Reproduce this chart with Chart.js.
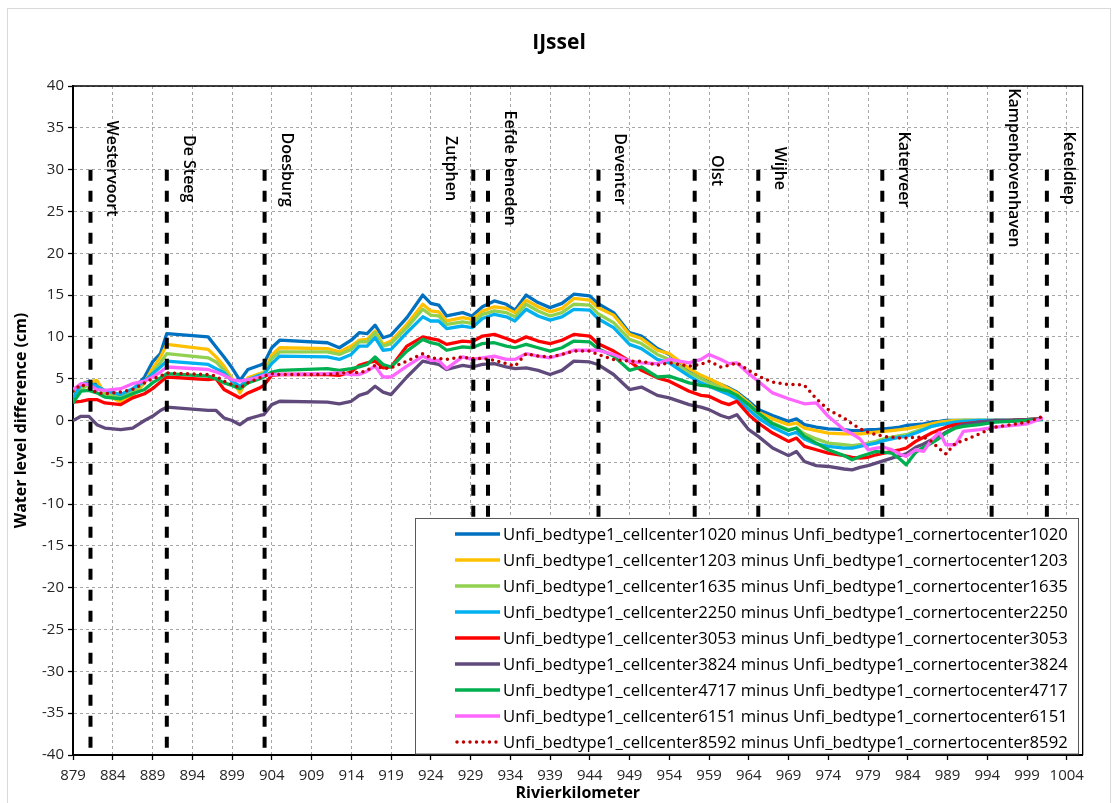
<!DOCTYPE html>
<html>
<head>
<meta charset="utf-8">
<script src="https://cdn.jsdelivr.net/npm/chart.js@4.4.1/dist/chart.umd.min.js"></script>
<style>
  html, body { margin: 0; padding: 0; background: #ffffff; }
  #wrap { width: 1113px; height: 803px; }
</style>
</head>
<body>
<div id="wrap"><canvas id="c" width="1113" height="803"></canvas></div>
<script>
// ---------------- DATA ----------------
const km = [879, 880, 881, 882, 883, 885, 886.5, 888, 889, 890, 890.8, 896, 897, 898, 899, 900, 901, 902.5, 903, 904, 905, 911, 912.5, 914, 915, 916, 917, 918, 919, 921, 923, 924, 925, 926, 928, 929.2, 930.5, 932, 933.5, 934.6, 936, 937.5, 939, 940.5, 942, 944, 945, 947, 949, 950.5, 952.5, 954, 956.5, 958, 959, 960.5, 961.5, 962.5, 964, 965.2, 967, 969, 970, 971, 972.5, 974, 976, 977, 978, 979, 980, 981, 982, 983, 983.8, 985, 986, 987, 988, 988.8, 990, 991, 993, 995, 997, 999, 1001];

const s1020 = [2.3, 4.3, 4.7, 4.5, 3.3, 2.7, 3.6, 5.2, 7.0, 8.0, 10.4, 10.0, 8.8, 7.6, 6.3, 4.8, 6.1, 6.6, 6.8, 8.7, 9.6, 9.3, 8.7, 9.6, 10.5, 10.4, 11.4, 9.9, 10.2, 12.3, 15.0, 14.0, 13.8, 12.5, 12.9, 12.5, 13.6, 14.3, 13.9, 13.2, 15.0, 14.1, 13.5, 14.0, 15.1, 14.9, 14.0, 12.9, 10.5, 10.1, 8.6, 7.9, 6.1, 5.3, 4.9, 4.3, 3.9, 3.4, 2.3, 1.3, 0.6, -0.1, 0.2, -0.5, -0.8, -1.0, -1.1, -1.2, -1.2, -1.1, -1.1, -1.0, -0.9, -0.8, -0.6, -0.5, -0.4, -0.2, -0.1, 0.0, 0.0, 0.0, 0.0, 0.0, 0.0, 0.1, 0.2];
const s1203 = [3.0, 4.3, 4.6, 4.8, 3.2, 2.2, 2.9, 4.5, 6.2, 7.6, 9.1, 8.5, 7.6, 6.5, 5.0, 3.3, 5.1, 5.6, 5.8, 7.8, 8.7, 8.6, 8.2, 8.9, 9.6, 9.7, 10.7, 9.1, 9.5, 11.5, 13.9, 13.1, 13.0, 11.9, 12.3, 12.1, 13.1, 13.6, 13.4, 12.9, 14.4, 13.6, 13.0, 13.4, 14.6, 14.4, 13.5, 12.6, 10.3, 9.8, 8.4, 8.0, 6.2, 5.4, 5.0, 4.3, 3.8, 3.3, 2.1, 1.0, 0.2, -0.5, -0.3, -0.9, -1.2, -1.5, -1.6, -1.6, -1.6, -1.5, -1.4, -1.3, -1.2, -1.1, -1.0, -0.8, -0.6, -0.4, -0.2, -0.1, 0.0, 0.0, 0.0, 0.0, 0.0, 0.1, 0.2];
const s1635 = [2.1, 3.7, 4.3, 4.0, 3.2, 2.9, 3.4, 4.6, 5.7, 6.9, 8.0, 7.5, 7.0, 6.0, 4.8, 3.9, 4.8, 5.5, 5.7, 7.4, 8.2, 8.2, 7.9, 8.5, 9.4, 9.4, 10.5, 8.9, 9.2, 11.1, 13.3, 12.6, 12.5, 11.5, 11.8, 11.6, 12.7, 13.1, 12.9, 12.4, 13.9, 13.1, 12.5, 12.9, 13.9, 13.8, 12.8, 11.7, 9.7, 9.2, 7.9, 7.3, 5.7, 5.0, 4.5, 3.9, 3.5, 3.0, 1.7, 0.7, -0.3, -1.1, -0.9, -1.6, -2.2, -2.7, -2.9, -3.0, -2.9, -2.7, -2.5, -2.2, -2.0, -1.8, -1.7, -1.3, -1.0, -0.7, -0.5, -0.3, -0.1, 0.0, 0.0, 0.0, 0.0, 0.1, 0.2];
const s2250 = [2.7, 4.3, 4.5, 4.1, 3.6, 3.1, 3.8, 4.7, 5.6, 6.4, 7.1, 6.7, 6.2, 5.7, 4.7, 4.1, 4.9, 5.4, 5.5, 6.8, 7.7, 7.6, 7.3, 7.9, 8.9, 8.9, 9.9, 8.4, 8.5, 10.5, 12.4, 11.9, 11.9, 11.0, 11.3, 11.1, 12.2, 12.7, 12.4, 11.9, 13.3, 12.5, 12.0, 12.4, 13.3, 13.2, 12.2, 11.1, 9.1, 8.6, 7.3, 6.9, 5.3, 4.5, 4.1, 3.5, 3.1, 2.6, 1.3, 0.3, -0.8, -1.7, -1.4, -2.2, -2.8, -3.1, -3.3, -3.3, -3.1, -2.9, -2.7, -2.4, -2.2, -2.0, -1.9, -1.5, -1.1, -0.7, -0.5, -0.4, -0.2, -0.1, 0.0, 0.0, 0.0, 0.1, 0.2];
const s3053 = [2.2, 2.3, 2.5, 2.5, 2.1, 1.9, 2.7, 3.2, 3.8, 4.6, 5.2, 4.9, 5.0, 3.7, 3.2, 2.7, 3.3, 3.9, 4.2, 5.4, 5.5, 5.5, 5.4, 5.8, 6.6, 6.9, 7.1, 6.3, 6.4, 8.9, 10.0, 9.8, 9.6, 9.1, 9.5, 9.4, 10.1, 10.3, 9.8, 9.4, 10.0, 9.5, 9.2, 9.6, 10.3, 10.1, 9.2, 8.3, 7.1, 6.0, 5.1, 4.7, 3.5, 3.0, 2.9, 2.2, 1.9, 2.3, 0.7, -0.3, -1.5, -2.5, -2.1, -3.1, -3.5, -3.9, -4.2, -4.4, -4.5, -4.4, -4.1, -3.9, -3.7, -3.5, -3.3, -2.5, -2.0, -1.5, -1.1, -0.8, -0.5, -0.4, -0.2, -0.1, 0.0, 0.1, 0.2];
const s3824 = [0.0, 0.5, 0.5, -0.5, -0.9, -1.1, -0.9, 0.0, 0.5, 1.2, 1.6, 1.2, 1.2, 0.3, 0.0, -0.5, 0.2, 0.6, 0.7, 1.9, 2.3, 2.2, 2.0, 2.3, 3.0, 3.3, 4.1, 3.4, 3.1, 5.2, 7.1, 6.9, 6.7, 6.1, 6.6, 6.4, 6.7, 6.8, 6.4, 6.2, 6.3, 6.0, 5.5, 6.0, 7.1, 7.0, 6.7, 5.5, 3.7, 4.0, 3.0, 2.7, 1.9, 1.6, 1.3, 0.6, 0.3, 0.7, -1.1, -1.9, -3.3, -4.2, -3.7, -4.9, -5.4, -5.5, -5.8, -5.9, -5.6, -5.4, -5.1, -4.8, -4.5, -4.2, -4.0, -3.2, -2.8, -2.3, -1.9, -1.4, -0.8, -0.5, -0.2, 0.0, 0.0, 0.1, 0.2];
const s4717 = [2.1, 3.5, 3.6, 3.3, 2.8, 2.6, 3.2, 3.7, 4.5, 5.1, 5.6, 5.3, 5.0, 4.5, 4.2, 3.8, 4.5, 5.0, 5.2, 5.8, 6.0, 6.2, 6.0, 6.2, 6.4, 6.7, 7.6, 6.7, 6.4, 8.3, 9.7, 9.3, 9.1, 8.4, 8.8, 8.7, 9.2, 9.3, 8.9, 8.7, 9.1, 8.7, 8.3, 8.7, 9.5, 9.4, 8.6, 7.7, 6.0, 6.4, 5.2, 5.3, 4.5, 4.2, 4.1, 3.7, 3.5, 3.0, 1.9, 0.9, -0.4, -1.2, -0.9, -1.9, -2.7, -3.5, -4.2, -4.7, -4.3, -4.0, -3.7, -3.8, -3.9, -4.6, -5.3, -3.8, -3.2, -2.7, -2.1, -1.5, -0.9, -0.7, -0.5, -0.2, -0.1, 0.0, 0.1];
const s6151 = [3.7, 4.4, 4.3, 3.7, 3.6, 3.8, 4.4, 4.7, 5.2, 5.8, 6.4, 6.1, 5.8, 5.4, 4.9, 4.7, 4.9, 5.2, 5.4, 5.5, 5.5, 5.6, 5.7, 5.5, 5.5, 5.9, 6.5, 5.2, 5.2, 6.5, 7.7, 7.2, 7.2, 6.2, 7.6, 7.3, 7.5, 7.7, 7.3, 7.3, 8.0, 7.7, 7.5, 7.9, 8.4, 8.4, 8.4, 7.9, 7.1, 6.9, 6.8, 7.3, 6.9, 7.3, 7.9, 7.3, 6.8, 6.9, 5.6, 4.7, 3.3, 2.6, 2.3, 2.0, 2.1, 0.5, -1.1, -1.6, -2.2, -3.5, -3.3, -3.2, -3.5, -4.0, -4.3, -3.5, -3.7, -2.3, -1.4, -2.9, -2.9, -1.3, -1.1, -0.8, -0.6, -0.4, 0.3];
const s8592 = [3.5, 4.3, 3.9, 3.3, 3.2, 3.4, 3.7, 4.5, 5.0, 5.3, 5.7, 5.5, 5.3, 4.7, 4.3, 3.9, 4.5, 5.1, 5.3, 5.6, 5.5, 5.5, 5.6, 5.8, 5.7, 6.0, 6.6, 6.2, 6.3, 7.1, 8.0, 7.5, 7.4, 7.3, 7.6, 7.4, 7.4, 7.2, 6.8, 6.5, 8.0, 7.7, 7.6, 7.9, 8.3, 8.3, 7.9, 7.3, 7.1, 7.1, 6.6, 6.9, 6.5, 6.7, 7.1, 6.4, 6.6, 6.9, 6.0, 5.3, 4.6, 4.3, 4.3, 4.2, 2.6, 1.3, 0.3, -0.4, -1.0, -1.4, -1.7, -1.9, -2.0, -2.1, -2.1, -2.0, -2.0, -2.5, -3.4, -4.0, -2.7, -2.4, -1.6, -0.8, -0.5, -0.2, 0.5];

const seriesLabels = [
  "Unfi_bedtype1_cellcenter1020 minus Unfi_bedtype1_cornertocenter1020",
  "Unfi_bedtype1_cellcenter1203 minus Unfi_bedtype1_cornertocenter1203",
  "Unfi_bedtype1_cellcenter1635 minus Unfi_bedtype1_cornertocenter1635",
  "Unfi_bedtype1_cellcenter2250 minus Unfi_bedtype1_cornertocenter2250",
  "Unfi_bedtype1_cellcenter3053 minus Unfi_bedtype1_cornertocenter3053",
  "Unfi_bedtype1_cellcenter3824 minus Unfi_bedtype1_cornertocenter3824",
  "Unfi_bedtype1_cellcenter4717 minus Unfi_bedtype1_cornertocenter4717",
  "Unfi_bedtype1_cellcenter6151 minus Unfi_bedtype1_cornertocenter6151",
  "Unfi_bedtype1_cellcenter8592 minus Unfi_bedtype1_cornertocenter8592"
];
const seriesValues = [s1020, s1203, s1635, s2250, s3053, s3824, s4717, s6151, s8592];

const stationNames = ["Westervoort", "De Steeg", "Doesburg", "Zutphen", "Eefde beneden", "Deventer", "Olst", "Wijhe", "Katerveer", "Kampenbovenhaven", "Keteldiep"];
const stationKm = [881.2, 890.8, 903.1, 929.35, 931.2, 945.1, 957.2, 965.2, 980.8, 994.55, 1001.5];

const xTickValues = [879, 884, 889, 894, 899, 904, 909, 914, 919, 924, 929, 934, 939, 944, 949, 954, 959, 964, 969, 974, 979, 984, 989, 994, 999, 1004];
const yTickValues = [-40, -35, -30, -25, -20, -15, -10, -5, 0, 5, 10, 15, 20, 25, 30, 35, 40];

// ---------------- STYLE ----------------
const seriesColors = ["#0070c0", "#ffc000", "#92d050", "#00b0f0", "#ff0000", "#604a7b", "#00b050", "#ff66ff", "#c00000"];
const FONT = "'Open Sans', 'Noto Sans', sans-serif";
// top of each rotated station label (in cm on the y axis) and side of its line
const stationLabelTop = [35.86, 34.15, 34.43, 34.03, 37.06, 34.35, 31.76, 32.75, 34.55, 39.74, 34.55];
const stationLabelDx = [21.5, 21.5, 21.5, -23, 21.5, 21.5, 21.5, 21.5, 21.5, 21.5, 21.5];

const datasets = [];
seriesValues.forEach((vals, i) => {
  const dotted = i === 8;
  datasets.push({
    label: seriesLabels[i],
    data: km.map((k, j) => ({ x: k, y: vals[j] })),
    borderColor: seriesColors[i],
    backgroundColor: seriesColors[i],
    borderWidth: dotted ? 3.5 : 3.3,
    borderDash: dotted ? [0, 6.5] : [],
    borderCapStyle: dotted ? 'round' : 'butt',
    borderJoinStyle: 'round',
    pointRadius: 0,
    tension: 0,
    fill: false,
    order: 20 - i
  });
});
stationKm.forEach((k, i) => {
  datasets.push({
    label: stationNames[i],
    data: [{ x: k, y: 30 }, { x: k, y: -40 }],
    borderColor: "#000000",
    borderWidth: 4,
    borderDash: [11, 10],
    pointRadius: 0,
    fill: false,
    order: 0
  });
});

const decorPlugin = {
  id: 'decor',
  beforeDraw(chart) {
    const ctx = chart.ctx;
    ctx.save();
    ctx.fillStyle = '#ffffff';
    ctx.fillRect(0, 0, chart.width, chart.height);
    ctx.strokeStyle = '#d9d9d9';
    ctx.lineWidth = 1;
    ctx.strokeRect(7.5, 8.5, 1103, 820);
    ctx.fillStyle = '#000000';
    ctx.font = "bold 21px " + FONT;
    ctx.textAlign = 'center';
    ctx.textBaseline = 'middle';
    ctx.fillText('IJssel', 559, 43);
    ctx.restore();
  },
  beforeDatasetsDraw(chart) {
    const ctx = chart.ctx, a = chart.chartArea;
    ctx.save();
    ctx.strokeStyle = '#000000';
    ctx.lineWidth = 1.3;
    ctx.beginPath();
    ctx.moveTo(a.left, a.top);
    ctx.lineTo(a.right, a.top);
    ctx.lineTo(a.right, a.bottom);
    ctx.stroke();
    ctx.restore();
  },
  afterDatasetsDraw(chart) {
    const ctx = chart.ctx;
    const xs = chart.scales.x, ys = chart.scales.y;
    ctx.save();
    ctx.fillStyle = '#000000';
    ctx.font = "600 16px " + FONT;
    ctx.textAlign = 'left';
    ctx.textBaseline = 'middle';
    stationNames.forEach((name, i) => {
      const px = xs.getPixelForValue(stationKm[i]) + stationLabelDx[i];
      const py = ys.getPixelForValue(stationLabelTop[i]);
      ctx.save();
      ctx.translate(px, py);
      ctx.rotate(Math.PI / 2);
      ctx.fillText(name, 0, 0);
      ctx.restore();
    });
    ctx.restore();
  },
  afterDraw(chart) {
    const ctx = chart.ctx;
    const left = 415.5, top = 518.5, right = 1078.5, bottom = 754;
    ctx.save();
    ctx.fillStyle = '#ffffff';
    ctx.fillRect(left, top, right - left, bottom - top);
    ctx.strokeStyle = '#595959';
    ctx.lineWidth = 1;
    ctx.strokeRect(left, top, right - left, bottom - top);
    ctx.font = "15px " + FONT;
    const w15 = ctx.measureText(seriesLabels[0]).width;
    let fs = 15 * 565 / w15;
    fs = Math.max(11, Math.min(17, fs));
    seriesLabels.forEach((lab, i) => {
      const y = 534 + 26 * i;
      ctx.save();
      ctx.strokeStyle = seriesColors[i];
      ctx.lineWidth = 3.5;
      if (i === 8) { ctx.setLineDash([0, 6.5]); ctx.lineCap = 'round'; }
      ctx.beginPath();
      ctx.moveTo(i === 8 ? 457 : 455, y);
      ctx.lineTo(500, y);
      ctx.stroke();
      ctx.restore();
      ctx.fillStyle = '#000000';
      ctx.font = fs.toFixed(2) + "px " + FONT;
      ctx.textAlign = 'left';
      ctx.textBaseline = 'middle';
      ctx.fillText(lab, 503, y + 1);
    });
    ctx.restore();
  }
};

new Chart(document.getElementById('c'), {
  type: 'line',
  data: { datasets },
  plugins: [decorPlugin],
  options: {
    responsive: false,
    animation: false,
    devicePixelRatio: 1,
    layout: { padding: { top: 86, right: 1113 - 1082.65, bottom: 0, left: 0 } },
    plugins: { legend: { display: false }, title: { display: false }, tooltip: { enabled: false } },
    scales: {
      x: {
        type: 'linear',
        min: 879,
        max: 1006,
        afterBuildTicks: s => { s.ticks = xTickValues.map(v => ({ value: v })); },
        afterFit: s => { s.height = 48; },
        grid: { color: '#a6a6a6', lineWidth: 1, tickColor: '#000000', tickLength: 5, tickWidth: 1.3, tickBorderDash: [] },
        border: { display: true, color: '#000000', width: 2, dash: [3, 3] },
        ticks: { autoSkip: false, maxRotation: 0, padding: 7, color: '#262626', font: { family: FONT, size: 15 }, callback: v => String(v) },
        title: { display: true, text: 'Rivierkilometer', color: '#000000', font: { family: FONT, size: 16, weight: 'bold' }, padding: { top: 0, bottom: 0 } }
      },
      y: {
        type: 'linear',
        min: -40,
        max: 40,
        afterBuildTicks: s => { s.ticks = yTickValues.map(v => ({ value: v })); },
        afterFit: s => { s.width = 73; },
        grid: { color: '#a6a6a6', lineWidth: 1, tickColor: '#000000', tickLength: 5, tickWidth: 1.3, tickBorderDash: [] },
        border: { display: true, color: '#000000', width: 2, dash: [3, 3] },
        ticks: { autoSkip: false, padding: 4, color: '#262626', font: { family: FONT, size: 15 }, callback: v => String(v) },
        title: { display: true, text: 'Water level difference (cm)', color: '#000000', font: { family: FONT, size: 16, weight: 'bold' }, padding: { top: 12, bottom: 0 } }
      }
    }
  }
});
</script>
</body>
</html>
